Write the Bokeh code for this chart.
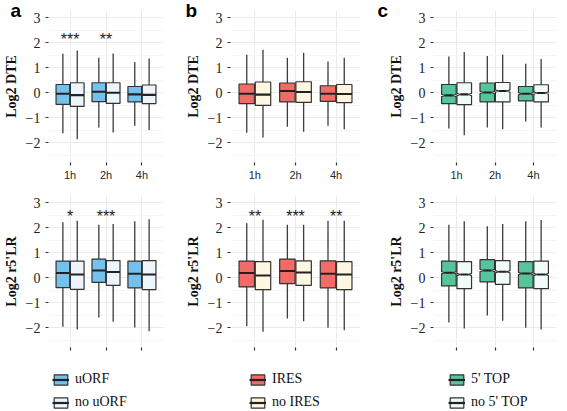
from bokeh.plotting import figure
from bokeh.models import Range1d, ColumnDataSource, Legend, LegendItem, FixedTicker
from bokeh.layouts import column, row
from bokeh.embed import file_html
from bokeh.resources import INLINE
from bokeh.core.properties import value

times = ["1h", "2h", "4h"]

# each entry: (lower whisker, Q1, median, Q3, upper whisker)
a_dte_uorf = [(-1.63, -0.47, -0.04, 0.33, 1.56), (-1.40, -0.36, 0.04, 0.40, 1.40), (-1.33, -0.37, -0.07, 0.25, 1.23)]
a_dte_nouorf = [(-1.87, -0.55, -0.10, 0.40, 1.69), (-1.60, -0.43, 0.00, 0.40, 1.57), (-1.50, -0.44, -0.09, 0.31, 1.37)]
a_lr_uorf = [(-1.97, -0.40, 0.19, 0.67, 2.23), (-1.60, -0.19, 0.29, 0.75, 2.13), (-2.00, -0.41, 0.16, 0.67, 2.27)]
a_lr_nouorf = [(-2.08, -0.47, 0.13, 0.67, 2.29), (-1.77, -0.31, 0.23, 0.69, 2.16), (-2.15, -0.48, 0.13, 0.69, 2.35)]

b_dte_ires = [(-1.61, -0.44, -0.04, 0.35, 1.52), (-1.37, -0.37, 0.07, 0.39, 1.40), (-1.33, -0.35, -0.04, 0.28, 1.25)]
b_dte_noires = [(-1.80, -0.51, -0.08, 0.43, 1.72), (-1.57, -0.39, 0.03, 0.44, 1.60), (-1.47, -0.40, -0.05, 0.33, 1.40)]
b_lr_ires = [(-1.95, -0.37, 0.19, 0.67, 2.19), (-1.64, -0.24, 0.27, 0.75, 2.13), (-2.01, -0.41, 0.16, 0.68, 2.29)]
b_lr_noires = [(-2.17, -0.48, 0.09, 0.65, 2.33), (-1.75, -0.31, 0.21, 0.68, 2.13), (-2.11, -0.48, 0.13, 0.65, 2.29)]

c_dte_top = [(-1.44, -0.44, -0.11, 0.33, 1.45), (-1.40, -0.37, 0.01, 0.39, 1.47), (-1.15, -0.33, -0.04, 0.25, 1.16)]
c_dte_notop = [(-1.71, -0.48, -0.07, 0.40, 1.63), (-1.47, -0.37, 0.07, 0.41, 1.53), (-1.40, -0.37, -0.01, 0.32, 1.35)]
c_lr_top = [(-1.80, -0.33, 0.20, 0.67, 2.13), (-1.52, -0.17, 0.29, 0.73, 2.07), (-2.01, -0.41, 0.17, 0.65, 2.27)]
c_lr_notop = [(-2.04, -0.44, 0.13, 0.65, 2.27), (-1.73, -0.27, 0.24, 0.69, 2.16), (-2.08, -0.44, 0.13, 0.67, 2.32)]

a_dte_stars = ["***", "**", ""]
a_lr_stars = ["*", "***", ""]
b_dte_stars = ["", "", ""]
b_lr_stars = ["**", "***", "**"]
c_dte_stars = ["", "", ""]
c_lr_stars = ["", "", ""]

a_labels = ["uORF", "no uORF"]
b_labels = ["IRES", "no IRES"]
c_labels = ["5' TOP", "no 5' TOP"]

a_colors = ["#74C1EC", "#ECF5FC"]
b_colors = ["#F16B67", "#FFF7E2"]
c_colors = ["#56C59B", "#F1FBF7"]

OUTLINE = "#333333"
HALF = 0.19
OFFSETS = [-0.2, 0.2]
SERIF = "Liberation Serif"
SANS = "Liberation Sans"


def stats_source(stats, offset, notch):
    x = [i + 1 + offset for i in range(len(times))]
    lo, q1, med, q3, hi = (list(v) for v in zip(*stats))
    nw = HALF * 0.55 if notch else HALF
    nh = 0.045
    xs, ys = [], []
    for xc, a, m, b in zip(x, q1, med, q3):
        if notch:
            xs.append([xc - HALF, xc + HALF, xc + HALF, xc + nw, xc + HALF, xc + HALF,
                       xc - HALF, xc - HALF, xc - nw, xc - HALF])
            ys.append([a, a, m - nh, m, m + nh, b, b, m + nh, m, m - nh])
        else:
            xs.append([xc - HALF, xc + HALF, xc + HALF, xc - HALF])
            ys.append([a, a, b, b])
    return ColumnDataSource(dict(x=x, lo=lo, q1=q1, med=med, q3=q3, hi=hi,
                                 ml=[v - nw for v in x], mr=[v + nw for v in x],
                                 xs=xs, ys=ys))


def draw_boxes(p, series, colors, notch):
    rends = []
    for stats, off, col in zip(series, OFFSETS, colors):
        src = stats_source(stats, off, notch)
        p.segment(x0="x", y0="lo", x1="x", y1="hi", source=src, line_color="#3C3C3C", line_width=1.3)
        box = p.patches(xs="xs", ys="ys", source=src, fill_color=col, line_color=OUTLINE, line_width=1.2)
        med = p.segment(x0="ml", y0="med", x1="mr", y1="med", source=src, line_color="#222222", line_width=2.2)
        rends.append((box, med))
    return rends


def make_panel(series, colors, stars, ylabel, top_row, width, bl, br, notch=False):
    if top_row:
        height, bt, bb = 190, 10, 28
    else:
        height, bt, bb = 177, 5, 20
    p = figure(width=width, height=height, x_range=Range1d(0.4, 3.6), y_range=Range1d(-2.8, 3.3),
               output_backend="svg", toolbar_location=None,
               min_border_left=bl, min_border_right=br, min_border_top=bt, min_border_bottom=bb)
    p.outline_line_color = None
    p.background_fill_color = "white"

    p.xaxis.ticker = FixedTicker(ticks=[1, 2, 3])
    p.xaxis.major_label_overrides = {i + 1: (t if top_row else "") for i, t in enumerate(times)}
    p.xaxis.major_label_text_font = SANS
    p.xaxis.major_label_text_font_size = "11px"
    p.xaxis.major_label_text_color = "#2A2A2A"
    p.xaxis.major_label_standoff = 3
    p.yaxis.ticker = FixedTicker(ticks=[-2, -1, 0, 1, 2, 3],
                                 minor_ticks=[-2.5, -1.5, -0.5, 0.5, 1.5, 2.5])
    p.yaxis.major_label_text_font = SERIF
    p.yaxis.major_label_text_font_size = "14px"
    p.yaxis.major_label_text_color = "#222222"
    p.yaxis.major_label_standoff = 4
    p.yaxis.axis_label = ylabel
    p.yaxis.axis_label_text_font = SERIF
    p.yaxis.axis_label_text_font_style = "bold"
    p.yaxis.axis_label_text_font_size = "14px"
    p.yaxis.axis_label_text_color = "#111111"
    p.yaxis.axis_label_standoff = 4
    for ax in (p.xaxis, p.yaxis):
        ax.axis_line_color = None
        ax.major_tick_line_color = "#333333"
        ax.major_tick_line_width = 1.2
        ax.major_tick_in = 0
        ax.major_tick_out = 3
        ax.minor_tick_line_color = None
    p.xgrid.grid_line_color = "#EBEBEB"
    p.ygrid.grid_line_color = "#EBEBEB"
    p.ygrid.minor_grid_line_color = "#F5F5F5"

    draw_boxes(p, series, colors, notch)

    star_y = 2.14 if top_row else 2.45
    ssrc = ColumnDataSource(dict(x=[i + 1 for i in range(len(times))], y=[star_y] * len(times), s=stars))
    p.text(x="x", y="y", text="s", source=ssrc, text_font=value(SANS), text_font_size="16px",
           text_align="center", text_baseline="alphabetic", text_color="#222222")
    return p


def add_letter(p, text, offset):
    # panel letter drawn as the figure title, pulled left of the frame and down beside it
    p.title.text = text
    p.title.align = "left"
    p.title.vertical_align = "middle"
    p.title.offset = offset
    p.title.text_font = SANS
    p.title.text_font_size = "19px"
    p.title.text_font_style = "bold"
    p.title.text_color = "black"
    try:
        p.title.standoff = -24
    except Exception:
        p.title.standoff = 0


def legend_fig(series, colors, labels, width, lx, notch=False):
    # the legend's own renderers reuse the panel data; the ranges keep them off-frame
    p = figure(width=width, height=44, x_range=Range1d(10, 11), y_range=Range1d(10, 11),
               x_axis_type=None, y_axis_type=None, output_backend="svg", toolbar_location=None,
               min_border_left=0, min_border_right=0, min_border_top=0, min_border_bottom=0)
    p.outline_line_color = None
    p.xgrid.visible = False
    p.ygrid.visible = False
    rends = draw_boxes(p, series, colors, notch)
    items = [LegendItem(label=lab, renderers=[box, med]) for (box, med), lab in zip(rends, labels)]
    leg = Legend(items=items, location=(lx, 1), orientation="vertical",
                 glyph_width=17, glyph_height=13, label_height=13, spacing=7,
                 label_standoff=6, padding=0, margin=0,
                 label_text_font=SERIF, label_text_font_size="14px", label_text_color="#111111",
                 border_line_color=None, background_fill_alpha=0)
    p.add_layout(leg, "center")
    return p


pa1 = make_panel([a_dte_uorf, a_dte_nouorf], a_colors, a_dte_stars, "Log2 DTE", True, 182, 38, 19)
pb1 = make_panel([b_dte_ires, b_dte_noires], b_colors, b_dte_stars, "Log2 DTE", True, 182, 48, 4)
pc1 = make_panel([c_dte_top, c_dte_notop], c_colors, c_dte_stars, "Log2 DTE", True, 195, 69, 3, notch=True)
add_letter(pa1, "a", -38)
add_letter(pb1, "b", -45)
add_letter(pc1, "c", -56)
pa2 = make_panel([a_lr_uorf, a_lr_nouorf], a_colors, a_lr_stars, "Log2 r5'LR", False, 182, 38, 19)
pb2 = make_panel([b_lr_ires, b_lr_noires], b_colors, b_lr_stars, "Log2 r5'LR", False, 182, 48, 4)
pc2 = make_panel([c_lr_top, c_lr_notop], c_colors, c_lr_stars, "Log2 r5'LR", False, 195, 69, 3, notch=True)
la = legend_fig([a_lr_uorf, a_lr_nouorf], a_colors, a_labels, 182, 52)
lb = legend_fig([b_lr_ires, b_lr_noires], b_colors, b_labels, 182, 67)
lc = legend_fig([c_lr_top, c_lr_notop], c_colors, c_labels, 195, 84, notch=True)

layout = column(row(pa1, pb1, pc1), row(pa2, pb2, pc2), row(la, lb, lc))

open("out.html", "w").write(file_html(layout, INLINE))
